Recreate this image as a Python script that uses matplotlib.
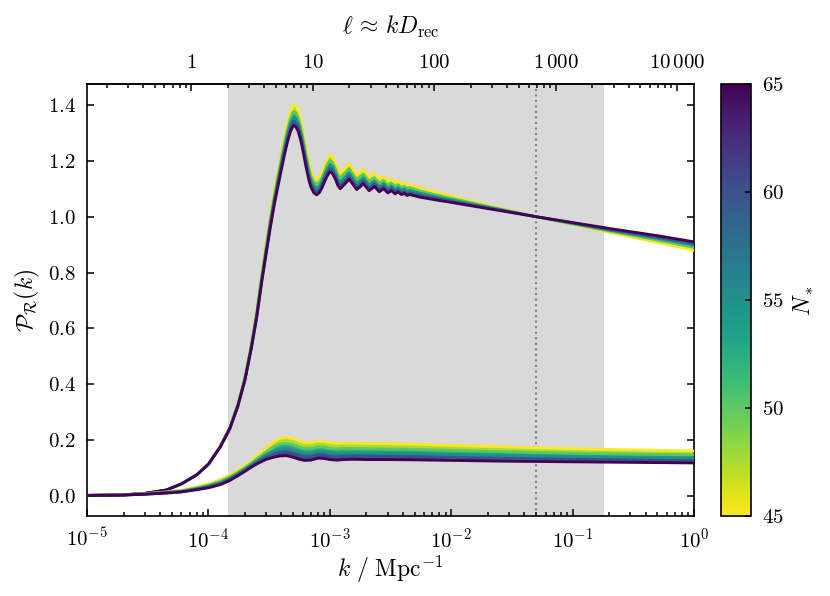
import numpy as np
import matplotlib
matplotlib.use('Agg')
import matplotlib.pyplot as plt
from matplotlib.colors import Normalize
from matplotlib.cm import ScalarMappable

plt.rcParams['mathtext.fontset'] = 'cm'
plt.rcParams['font.family'] = 'serif'
plt.rcParams['font.serif'] = ['cmr10', 'DejaVu Serif']
plt.rcParams['axes.formatter.use_mathtext'] = True
plt.rcParams['axes.unicode_minus'] = False
plt.rcParams['font.size'] = 15

# Значения N_* для кривых
N_values = [45, 50, 55, 60, 65]

# Верхнее семейство кривых
k_up = [1e-5, 2e-5, 3e-5, 4.5e-5, 6e-5, 8e-5, 1e-4, 1.25e-4, 1.5e-4, 1.75e-4,
        2e-4, 2.25e-4, 2.5e-4, 2.75e-4, 3e-4, 3.25e-4, 3.5e-4, 3.75e-4, 4e-4, 4.25e-4,
        4.5e-4, 4.75e-4, 5e-4, 5.25e-4, 5.5e-4, 5.75e-4, 6e-4, 6.25e-4, 6.5e-4, 6.75e-4,
        7e-4, 7.4e-4, 7.8e-4, 8.2e-4, 8.6e-4, 9e-4, 9.5e-4, 1.0e-3, 1.05e-3, 1.11e-3,
        1.165e-3, 1.22e-3, 1.33e-3, 1.445e-3, 1.555e-3, 1.665e-3, 1.78e-3, 1.89e-3, 2.0e-3, 2.11e-3,
        2.335e-3, 2.555e-3, 2.78e-3, 3.0e-3, 3.225e-3, 3.445e-3, 3.67e-3, 3.89e-3, 4.115e-3, 4.335e-3,
        4.56e-3, 5.5e-3, 7e-3, 1e-2, 2e-2, 5e-2, 0.1, 0.2, 0.5, 1.0]

P_up_45 = [0.002, 0.004, 0.009, 0.021, 0.044, 0.076, 0.115, 0.178, 0.246, 0.331,
           0.428, 0.543, 0.664, 0.798, 0.909, 1.009, 1.093, 1.163, 1.228, 1.287,
           1.336, 1.376, 1.400, 1.397, 1.379, 1.347, 1.307, 1.264, 1.225, 1.191,
           1.165, 1.142, 1.131, 1.140, 1.157, 1.179, 1.204, 1.221, 1.215, 1.192,
           1.168, 1.157, 1.172, 1.190, 1.169, 1.149, 1.158, 1.169, 1.154, 1.141,
           1.155, 1.134, 1.144, 1.127, 1.134, 1.122, 1.127, 1.117, 1.121, 1.113,
           1.115, 1.103, 1.091, 1.074, 1.041, 1.000, 0.972, 0.944, 0.908, 0.880]
P_up_50 = [0.002, 0.004, 0.009, 0.021, 0.044, 0.076, 0.114, 0.177, 0.244, 0.328,
           0.423, 0.537, 0.655, 0.787, 0.896, 0.994, 1.077, 1.146, 1.209, 1.267,
           1.314, 1.353, 1.376, 1.372, 1.355, 1.323, 1.284, 1.242, 1.204, 1.170,
           1.145, 1.123, 1.114, 1.122, 1.139, 1.160, 1.185, 1.201, 1.195, 1.173,
           1.150, 1.138, 1.154, 1.172, 1.151, 1.132, 1.141, 1.152, 1.138, 1.125,
           1.139, 1.119, 1.129, 1.113, 1.120, 1.109, 1.114, 1.104, 1.108, 1.101,
           1.103, 1.092, 1.081, 1.066, 1.037, 1.000, 0.974, 0.949, 0.916, 0.890]
P_up_55 = [0.002, 0.004, 0.009, 0.021, 0.043, 0.075, 0.114, 0.176, 0.242, 0.325,
           0.420, 0.532, 0.649, 0.779, 0.886, 0.983, 1.065, 1.132, 1.194, 1.250,
           1.297, 1.334, 1.356, 1.353, 1.335, 1.305, 1.266, 1.224, 1.187, 1.154,
           1.130, 1.108, 1.100, 1.108, 1.125, 1.145, 1.169, 1.185, 1.180, 1.158,
           1.135, 1.123, 1.140, 1.157, 1.137, 1.118, 1.128, 1.139, 1.125, 1.113,
           1.127, 1.107, 1.118, 1.102, 1.110, 1.098, 1.104, 1.095, 1.099, 1.091,
           1.094, 1.084, 1.074, 1.060, 1.034, 1.000, 0.976, 0.952, 0.922, 0.898]
P_up_60 = [0.002, 0.004, 0.009, 0.021, 0.043, 0.075, 0.113, 0.175, 0.241, 0.323,
           0.417, 0.528, 0.643, 0.771, 0.877, 0.973, 1.054, 1.120, 1.181, 1.237,
           1.283, 1.318, 1.340, 1.336, 1.319, 1.289, 1.251, 1.210, 1.172, 1.140,
           1.116, 1.096, 1.088, 1.096, 1.112, 1.133, 1.156, 1.172, 1.166, 1.146,
           1.123, 1.111, 1.127, 1.145, 1.125, 1.107, 1.117, 1.128, 1.114, 1.102,
           1.117, 1.098, 1.108, 1.093, 1.101, 1.090, 1.095, 1.086, 1.090, 1.083,
           1.086, 1.076, 1.068, 1.055, 1.031, 1.000, 0.978, 0.955, 0.927, 0.904]
P_up_65 = [0.002, 0.004, 0.009, 0.021, 0.043, 0.075, 0.113, 0.174, 0.240, 0.321,
           0.414, 0.524, 0.638, 0.765, 0.870, 0.965, 1.045, 1.110, 1.170, 1.225,
           1.270, 1.305, 1.326, 1.322, 1.305, 1.275, 1.238, 1.197, 1.160, 1.128,
           1.105, 1.085, 1.078, 1.086, 1.102, 1.122, 1.145, 1.160, 1.155, 1.135,
           1.112, 1.100, 1.117, 1.134, 1.115, 1.097, 1.107, 1.118, 1.105, 1.093,
           1.108, 1.089, 1.100, 1.085, 1.093, 1.082, 1.088, 1.079, 1.083, 1.076,
           1.079, 1.070, 1.062, 1.051, 1.029, 1.000, 0.979, 0.958, 0.932, 0.910]

# Нижнее семейство кривых
k_low = [1e-5, 2e-5, 3e-5, 4.5e-5, 6e-5, 8e-5, 1e-4, 1.25e-4, 1.5e-4, 1.75e-4,
         2e-4, 2.3e-4, 2.6e-4, 3e-4, 3.5e-4, 3.9e-4, 4.4e-4, 5e-4, 5.6e-4, 6.2e-4,
         7e-4, 8e-4, 9e-4, 1e-3, 1.15e-3, 1.3e-3, 1.6e-3, 2e-3, 3e-3, 5e-3,
         1e-2, 3e-2, 0.1, 0.3, 1.0]

P_low_45 = [0.001, 0.004, 0.008, 0.014, 0.020, 0.032, 0.043, 0.058, 0.075, 0.092,
            0.108, 0.128, 0.148, 0.172, 0.195, 0.207, 0.209, 0.205, 0.197, 0.191,
            0.190, 0.196, 0.195, 0.190, 0.188, 0.189, 0.189, 0.188, 0.187, 0.185,
            0.181, 0.175, 0.169, 0.165, 0.161]
P_low_50 = [0.001, 0.004, 0.007, 0.013, 0.018, 0.029, 0.038, 0.052, 0.068, 0.085,
            0.101, 0.120, 0.138, 0.158, 0.177, 0.186, 0.188, 0.183, 0.175, 0.170,
            0.170, 0.176, 0.175, 0.170, 0.168, 0.170, 0.170, 0.169, 0.168, 0.167,
            0.163, 0.158, 0.153, 0.150, 0.147]
P_low_55 = [0.001, 0.003, 0.007, 0.012, 0.016, 0.026, 0.035, 0.047, 0.063, 0.080,
            0.096, 0.114, 0.130, 0.148, 0.162, 0.169, 0.171, 0.165, 0.158, 0.153,
            0.153, 0.160, 0.159, 0.155, 0.153, 0.154, 0.155, 0.154, 0.153, 0.152,
            0.149, 0.145, 0.141, 0.138, 0.136]
P_low_60 = [0.001, 0.003, 0.006, 0.011, 0.015, 0.024, 0.032, 0.043, 0.059, 0.076,
            0.092, 0.109, 0.124, 0.139, 0.150, 0.155, 0.156, 0.151, 0.144, 0.139,
            0.140, 0.147, 0.146, 0.141, 0.139, 0.141, 0.142, 0.141, 0.141, 0.140,
            0.137, 0.134, 0.131, 0.129, 0.126]
P_low_65 = [0.001, 0.003, 0.006, 0.010, 0.014, 0.022, 0.029, 0.040, 0.055, 0.072,
            0.088, 0.105, 0.118, 0.131, 0.139, 0.143, 0.144, 0.138, 0.131, 0.127,
            0.128, 0.135, 0.134, 0.130, 0.128, 0.130, 0.131, 0.130, 0.130, 0.129,
            0.127, 0.124, 0.122, 0.120, 0.118]

# Прочие параметры
D_rec = 13800.0
ell_range = [2, 2500]
k_pivot = 0.05
ell_ticks = [1, 10, 100, 1000, 10000]
ell_labels = [r'$1$', r'$10$', r'$100$', r'$1\,000$', r'$10\,000$']
cb_ticks = [45, 50, 55, 60, 65]

cmap = plt.get_cmap('viridis_r')
norm = Normalize(vmin=45, vmax=65)
label_fs = 17

fig = plt.figure(figsize=(8.3, 5.96), dpi=100)
ax = fig.add_axes([0.1048, 0.1342, 0.7313, 0.7248])
cax = fig.add_axes([0.8687, 0.1342, 0.0361, 0.7248])

ax.axvspan(ell_range[0] / D_rec, ell_range[1] / D_rec, color='0.85', lw=0, zorder=0)
ax.axvline(k_pivot, color='0.5', ls=':', lw=1.5, zorder=1)

bands = [(k_up, [P_up_45, P_up_50, P_up_55, P_up_60, P_up_65]),
         (k_low, [P_low_45, P_low_50, P_low_55, P_low_60, P_low_65])]

for k_vals, curves in bands:
    # заполнение между соседними кривыми
    for i in range(len(curves) - 1):
        mid = 0.5 * (N_values[i] + N_values[i + 1])
        ax.fill_between(k_vals, curves[i], curves[i + 1], color=cmap(norm(mid)),
                        lw=0, zorder=2)
    for n, c in zip(N_values, curves):
        ax.plot(k_vals, c, color=cmap(norm(n)), lw=2.0, zorder=3)

ax.set_xscale('log')
ax.set_xlim(1e-5, 1)
ax.set_ylim(-0.072, 1.475)
ax.set_yticks([0.0, 0.2, 0.4, 0.6, 0.8, 1.0, 1.2, 1.4])
ax.tick_params(which='both', direction='in', top=False, right=True, width=1.1, pad=8)
ax.tick_params(which='major', length=5)
ax.tick_params(which='minor', length=3)
ax.set_xlabel(r'$k\ /\ \mathrm{Mpc}^{-1}$', fontsize=label_fs, labelpad=2)
ax.set_ylabel(r'$\mathcal{P}_\mathcal{R}(k)$', fontsize=label_fs, labelpad=4)
for s in ax.spines.values():
    s.set_linewidth(1.2)

secax = ax.secondary_xaxis('top', functions=(lambda k: k * D_rec, lambda l: l / D_rec))
secax.set_zorder(10)
secax.set_xticks(ell_ticks, labels=ell_labels)
secax.tick_params(which='both', direction='in', width=1.1, pad=9)
secax.tick_params(which='major', length=5)
secax.tick_params(which='minor', length=3)
secax.set_xlabel(r'$\ell \,\approx\, k D_\mathrm{rec}$', fontsize=label_fs, labelpad=14)
secax.spines['top'].set_linewidth(1.2)

cb = fig.colorbar(ScalarMappable(norm=norm, cmap=cmap), cax=cax)
cb.set_ticks(cb_ticks)
cb.ax.tick_params(direction='in', length=4, width=1.1, pad=8)
cb.outline.set_linewidth(1.2)
cb.set_label(r'$N_*$', fontsize=label_fs, labelpad=6)

fig.savefig('out.png', dpi=100)
